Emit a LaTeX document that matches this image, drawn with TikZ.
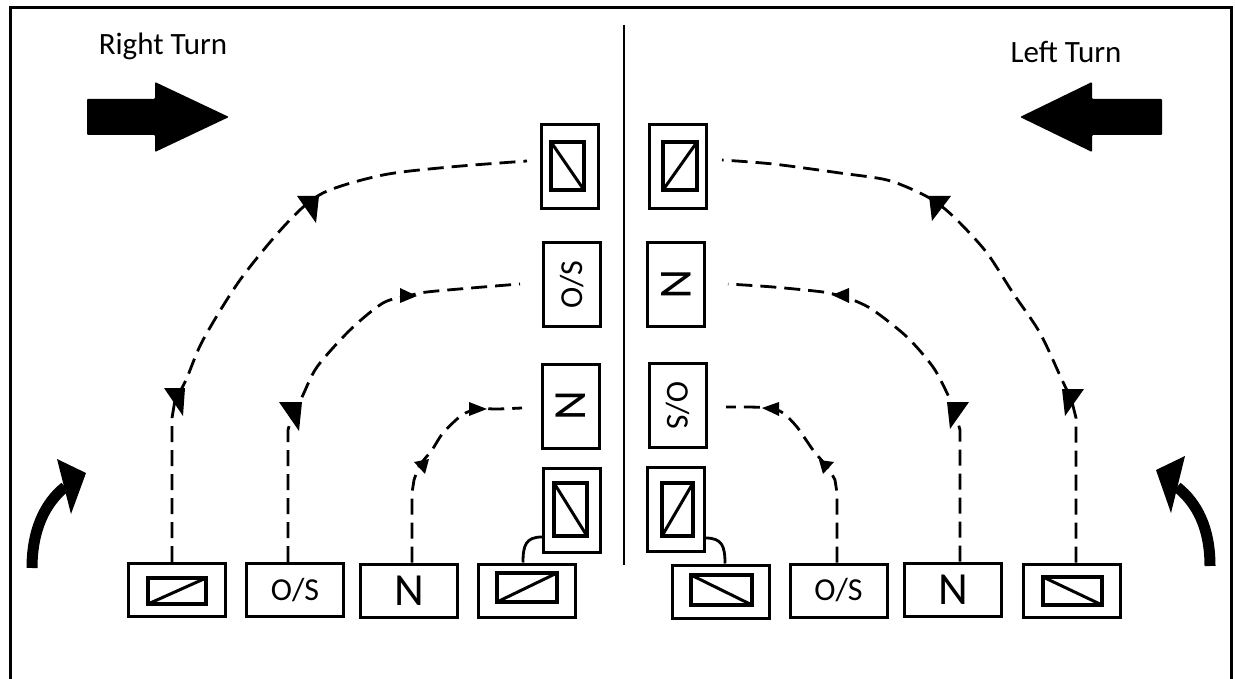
\documentclass[tikz,border=0pt]{standalone}
\usepackage{fontspec}
\setmainfont{Carlito}
\begin{document}
\begin{tikzpicture}[x=1pt,y=-1pt,
  box/.style={draw,line width=3pt,minimum width=57pt,minimum height=84pt,inner sep=0pt},
  hbox/.style={draw,line width=3pt,minimum width=97pt,minimum height=53pt,inner sep=0pt},
  innerrect/.style={line width=3.5pt},
  diag/.style={line width=3pt},
  dashline/.style={line width=2.8pt,dash pattern=on 16pt off 8pt},
  hookline/.style={line width=2.8pt},
  tipfill/.style={fill=black},
  bigarrow/.style={fill=black,rounded corners=1pt},
  lbl/.style={font=\fontsize{32}{36}\selectfont},
  nlbl/.style={font=\fontsize{46}{50}\selectfont},
  title/.style={font=\fontsize{31}{36}\selectfont,anchor=base,inner sep=0pt}]
\useasboundingbox (0,0) rectangle (1235,679);
% frame
\draw[line width=3pt] (10,679) -- (10,8) -- (1231,8) -- (1231,679);
% divider
\draw[line width=2.5pt] (624,25) -- (624,565);
% titles
\node[title] (rt) at (163,55) {Right Turn};
\node[title] (lt) at (1066,63) {Left Turn};
% big arrows
\fill[bigarrow] (87,99) -- (155,99) -- (155,82) -- (229,117) -- (155,152) -- (155,135) -- (87,135) -- cycle;
\fill[bigarrow] (1162,99) -- (1092,99) -- (1092,82) -- (1020,117) -- (1092,152) -- (1092,135) -- (1162,135) -- cycle;
% corner curved arrows
\draw[line width=11pt] (32,568) .. controls (32,530) and (45,503) .. (65,487);
\fill (57,459) -- (86,473) -- (71,514) -- cycle;
\draw[line width=11pt] (1210,566) .. controls (1210,528) and (1197,503) .. (1177,487);
\fill (1185,456) -- (1156,470) -- (1171,513) -- cycle;
% column boxes
\node[box] (lb1) at (570,166.5) {};
\node[box,lbl] (lb2) at (572,284.5) {\rotatebox{90}{O/S}};
\node[box,nlbl] (lb3) at (571,406) {\rotatebox{90}{N}};
\node[box] (lb4) at (572,510) {};
\node[box] (rb1) at (678,166.5) {};
\node[box,nlbl] (rb2) at (676,284.5) {\rotatebox{-90}{N}};
\node[box,lbl] (rb3) at (677.5,405.5) {\rotatebox{-90}{O/S}};
\node[box] (rb4) at (675.5,509.5) {};
% bottom boxes
\node[hbox] (A) at (177,590) {};
\node[hbox,lbl] (B) at (295,590) {O/S};
\node[hbox,nlbl] (C) at (409,590.5) {N};
\node[hbox] (D) at (527,590.5) {};
\node[hbox] (E) at (721,591.5) {};
\node[hbox,lbl] (F) at (838.5,590.5) {O/S};
\node[hbox,nlbl] (G) at (953,589.5) {N};
\node[hbox] (H) at (1071.5,590.5) {};
% inner symbols
\draw[innerrect] (551,142) rectangle (584,190); \draw[diag] (551,142) -- (584,190);
\draw[innerrect] (554,483) rectangle (587,536); \draw[diag] (554,483) -- (587,536);
\draw[innerrect] (663,142) rectangle (697,190); \draw[diag] (663,190) -- (697,142);
\draw[innerrect] (662,483) rectangle (693,536); \draw[diag] (662,536) -- (693,483);
\draw[innerrect] (148,578) rectangle (206,604); \draw[diag] (148,604) -- (206,578);
\draw[innerrect] (497,573) rectangle (557,602); \draw[diag] (497,602) -- (557,573);
\draw[innerrect] (691,575) rectangle (752,605); \draw[diag] (691,575) -- (752,605);
\draw[innerrect] (1043,577) rectangle (1102,605); \draw[diag] (1043,577) -- (1102,605);
% hooks
\draw[hookline] (lb4.west |- 0,537) .. controls (526,537) and (523,545) .. (D.north -| 523,0);
\draw[hookline] (rb4.east |- 0,538) .. controls (722,538) and (725,546) .. (E.north -| 725,0);
% free ends of dashed paths
\coordinate (p1e) at (527,161);
\coordinate (p2e) at (520,284);
\coordinate (p3e) at (522,408);
\coordinate (p4e) at (722,160);
\coordinate (p5e) at (728,284);
\coordinate (p6e) at (726,407);
% dashed paths
\draw[dashline] (A.north -| 172,0) -- (172,418) -- plot[smooth] coordinates {(175,400) (186,380) (203,340) (240,280) (287,223) (323,193) (383,175) (450,167) (p1e)};
\draw[dashline] (B.north -| 288,0) -- (288,430) -- plot[smooth] coordinates {(293,412) (302,397) (317,367) (350,330) (383,303) (408,296) (427,292) (483,287) (p2e)};
\draw[dashline] (C.north -| 412,0) -- (412,493) -- plot[smooth] coordinates {(414,480) (420,465) (432,450) (443,433) (462,415) (478,409) (498,409) (p3e)};
\draw[dashline] (H.north -| 1076,0) -- (1076,418) -- plot[smooth] coordinates {(1071,398) (1062,380) (1040,333) (1013,293) (987,253) (960,223) (940,205) (920,193) (887,180) (840,173) (773,164) (p4e)};
\draw[dashline] (G.north -| 960,0) -- (960,430) -- plot[smooth] coordinates {(955,412) (947,393) (933,367) (907,337) (873,310) (853,300) (840,296) (823,292) (773,287) (p5e)};
\draw[dashline] (F.north -| 837,0) -- (837,493) -- plot[smooth] coordinates {(835,480) (828,468) (813,450) (797,427) (783,413) (770,408) (747,407) (p6e)};
% arrow tips
\fill[tipfill] (164,388) -- (185,388) -- (183,416) -- cycle;
\fill[tipfill] (297,196) -- (319,196) -- (316,223) -- cycle;
\fill[tipfill] (279,402) -- (302,402) -- (299,431) -- cycle;
\fill[tipfill] (400,288) -- (400,303) -- (417,296) -- cycle;
\fill[tipfill] (414,462) -- (429,459) -- (425,474) -- cycle;
\fill[tipfill] (469,402) -- (469,416) -- (487,409) -- cycle;
\fill[tipfill] (1084,389) -- (1062,389) -- (1065,416) -- cycle;
\fill[tipfill] (951,196) -- (929,196) -- (932,221) -- cycle;
\fill[tipfill] (969,402) -- (947,402) -- (950,429) -- cycle;
\fill[tipfill] (849,288) -- (849,303) -- (832,295) -- cycle;
\fill[tipfill] (834,462) -- (819,460) -- (823,474) -- cycle;
\fill[tipfill] (779,402) -- (779,416) -- (762,408) -- cycle;
\end{tikzpicture}
\end{document}
